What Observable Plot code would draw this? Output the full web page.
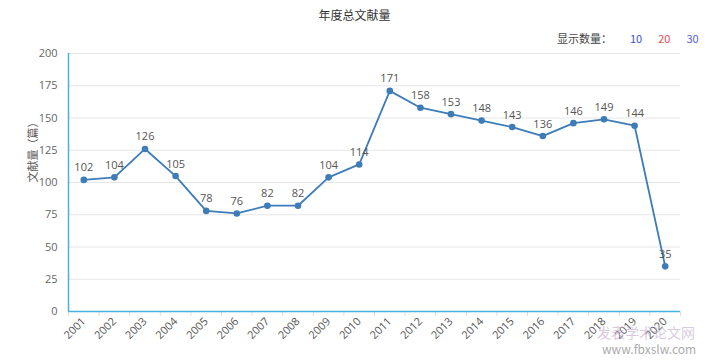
<!DOCTYPE html>
<html><head><meta charset="utf-8">
<script src="https://cdn.jsdelivr.net/npm/d3@7"></script>
<script src="https://cdn.jsdelivr.net/npm/@observablehq/plot@0.6"></script>
<style>
body{margin:0;background:#fff;font-family:"Open Sans","Noto Sans CJK SC",sans-serif;}
#wrap{position:relative;width:709px;height:361px;overflow:hidden;}
#title{position:absolute;top:6px;left:0;width:709px;text-align:center;font-size:12px;color:#333;font-family:"Noto Sans CJK SC",sans-serif;}
#legend{position:absolute;top:30px;left:557px;font-size:11px;color:#444;font-family:"Noto Sans CJK SC",sans-serif;white-space:nowrap;}
#legend span{display:inline-block;}
#wm{position:absolute;left:597px;top:324px;font-family:"Noto Sans CJK SC",sans-serif;pointer-events:none;white-space:nowrap;}
</style></head>
<body><div id="wrap">
<div id="title">年度总文献量</div>
<div id="legend"><span>显示数量：</span><span style="margin-left:18px;color:#3b4fd8">10</span><span style="margin-left:16px;color:#ef4b4b">20</span><span style="margin-left:16px;color:#5460dd">30</span></div>
<div id="chart"></div>
<div id="wm"><div style="font-size:14px;line-height:16px;color:rgba(190,165,205,0.6)">发表学术论文网</div><div style="font-size:12px;line-height:14px;color:rgba(140,140,140,0.75);margin-left:5px;margin-top:2px">www.fbxslw.com</div></div>
</div>
<script>
const years = ["2001","2002","2003","2004","2005","2006","2007","2008","2009","2010","2011","2012","2013","2014","2015","2016","2017","2018","2019","2020"];
const counts = [102,104,126,105,78,76,82,82,104,114,171,158,153,148,143,136,146,149,144,35];
const yTicks = [0,25,50,75,100,125,150,175,200];
const yLabel = "文献量（篇）";

const yearNums = years.map(Number);
const data = years.map((y,i)=>({year:Number(y), n:counts[i]}));
const bounds = yearNums.map(v=>v-0.5).concat([yearNums[yearNums.length-1]+0.5]);

const chart = Plot.plot({
  width:709, height:361,
  marginLeft:68, marginRight:29, marginTop:53, marginBottom:50,
  style:{fontFamily:"'Open Sans','Noto Sans CJK SC',sans-serif", fontSize:"11px", background:"#fff"},
  x:{type:"linear", domain:[yearNums[0]-0.5, yearNums[yearNums.length-1]+0.5]},
  y:{domain:[0,200]},
  marks:[
    Plot.gridY(yTicks.slice(1), {stroke:"#e6e6e6", strokeOpacity:1}),
    Plot.axisY(yTicks, {tickSize:0, tickPadding:11, fill:"#666", fontSize:11, label:null}),
    Plot.axisX(bounds, {tickSize:5, tickFormat:()=> "", stroke:"#d8dde6", label:null}),
    Plot.axisX(yearNums, {tickSize:0, tickPadding:8, tickRotate:-45, tickFormat:d=>String(d), fill:"#555", fontSize:11, label:null}),
    Plot.ruleY([0], {stroke:"#45b2e0", strokeWidth:1.5}),
    Plot.ruleX([bounds[0]], {y1:0, y2:200, stroke:"#45b2e0", strokeWidth:1.5}),
    Plot.line(data, {x:"year", y:"n", stroke:"#3e7cb8", strokeWidth:1.8}),
    Plot.dot(data, {x:"year", y:"n", r:3.3, fill:"#3e7cb8"}),
    Plot.text(data, {x:"year", y:"n", text:d=>String(d.n), dy:-12, fill:"#555", fontSize:11}),
    Plot.text([yLabel], {frameAnchor:"left", dx:-35, rotate:-90, fill:"#555", fontSize:11, fontFamily:"Noto Sans CJK SC"})
  ]
});
document.getElementById("chart").appendChild(chart);
</script>
</body></html>
